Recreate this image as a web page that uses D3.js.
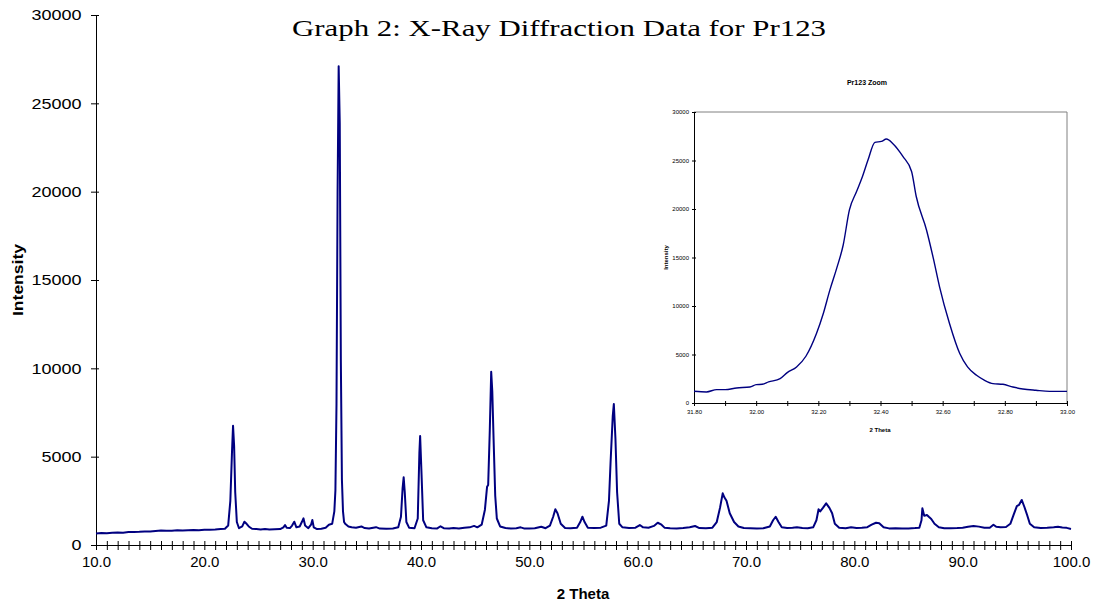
<!DOCTYPE html>
<html>
<head>
<meta charset="utf-8">
<script src="https://cdn.jsdelivr.net/npm/d3@7"></script>
<style>
  body { margin: 0; background: white; }
  text { font-family: Arial, "Liberation Sans", sans-serif; }
</style>
</head>
<body>
<script>
// Main scan: 2 theta (deg) and intensity (counts)
const thetaMain = [
  10.0, 10.5, 11.0, 11.5, 12.0, 12.5, 13.0, 13.5, 14.0, 14.5, 15.0, 15.5, 16.0, 16.5, 17.0, 17.5,
  18.0, 18.5, 19.0, 19.5, 20.0, 20.5, 21.0, 21.5, 21.9, 22.2, 22.4, 22.55, 22.65, 22.75, 22.85, 23.0,
  23.2, 23.5, 23.7, 23.9, 24.1, 24.4, 24.8, 25.2, 25.6, 26.0, 26.5, 27.0, 27.3, 27.45, 27.6, 27.9,
  28.1, 28.3, 28.5, 28.8, 29.0, 29.15, 29.3, 29.6, 29.85, 29.97, 30.1, 30.4, 30.8, 31.2, 31.5, 31.8,
  32.0, 32.1, 32.2, 32.3, 32.4, 32.5, 32.6, 32.7, 32.8, 32.9, 33.0, 33.3, 33.6, 34.0, 34.5, 34.8,
  35.2, 35.85, 36.2, 36.8, 37.4, 37.9, 38.15, 38.3, 38.4, 38.5, 38.65, 38.9, 39.4, 39.7, 39.85, 39.92,
  40.05, 40.2, 40.5, 41.0, 41.5, 41.8, 42.1, 42.6, 43.0, 43.5, 44.0, 44.5, 44.9, 45.2, 45.6, 45.9,
  46.1, 46.2, 46.35, 46.48, 46.58, 46.7, 46.85, 47.0, 47.3, 47.8, 48.3, 48.8, 49.2, 49.5, 50.0, 50.5,
  51.1, 51.5, 51.9, 52.2, 52.4, 52.6, 52.9, 53.3, 53.8, 54.4, 54.7, 54.9, 55.1, 55.4, 56.0, 56.6,
  57.1, 57.35, 57.5, 57.7, 57.8, 57.95, 58.1, 58.3, 58.6, 59.2, 59.8, 60.2, 60.5, 61.0, 61.5, 61.85,
  62.2, 62.5, 63.0, 63.6, 64.2, 64.8, 65.3, 65.7, 66.3, 66.9, 67.3, 67.6, 67.85, 68.0, 68.2, 68.5,
  68.9, 69.3, 69.8, 70.4, 71.0, 71.6, 72.2, 72.5, 72.74, 73.0, 73.3, 73.8, 74.3, 74.7, 75.2, 75.7,
  76.2, 76.5, 76.7, 76.85, 77.1, 77.4, 77.7, 77.95, 78.2, 78.6, 79.2, 79.7, 80.2, 80.7, 81.2, 81.6,
  82.0, 82.3, 82.7, 83.2, 83.8, 84.4, 85.0, 85.6, 86.0, 86.2, 86.28, 86.45, 86.7, 86.9, 87.1, 87.4,
  87.8, 88.3, 88.9, 89.5, 90.0, 90.5, 91.0, 91.5, 92.0, 92.5, 92.84, 93.1, 93.5, 94.0, 94.4, 94.7,
  95.0, 95.2, 95.45, 95.7, 95.95, 96.2, 96.6, 97.2, 97.8, 98.4, 98.8, 99.2, 99.6, 100.0
]
const intensityMain = [
  650, 680, 670, 700, 710, 700, 730, 740, 750, 770, 760, 790, 820, 800, 810, 830,
  820, 840, 850, 840, 860, 870, 880, 900, 920, 1100, 2500, 5200, 6750, 5600, 3000, 1300,
  950, 1050, 1320, 1200, 1050, 920, 900, 880, 900, 880, 890, 900, 1000, 1130, 980, 960,
  1100, 1320, 1000, 1050, 1300, 1510, 1100, 950, 1150, 1420, 1000, 900, 920, 980, 1150, 1200,
  1900, 3100, 8000, 19900, 27100, 23900, 10500, 3700, 1900, 1300, 1200, 1050, 1000, 980, 1050, 960,
  930, 1010, 930, 920, 930, 1000, 1600, 3200, 3830, 3000, 1300, 980, 950, 1500, 5200, 6170,
  4000, 1400, 1000, 950, 940, 1060, 950, 930, 960, 930, 970, 1000, 1080, 1000, 1150, 2000,
  3300, 3400, 6500, 9800, 8700, 6000, 2800, 1500, 1050, 960, 930, 950, 1000, 940, 930, 950,
  1035, 950, 1100, 1600, 2020, 1800, 1200, 960, 950, 980, 1300, 1600, 1300, 980, 960, 980,
  1100, 2500, 4700, 7300, 7980, 6000, 3000, 1200, 1000, 960, 980, 1130, 1000, 980, 1080, 1260,
  1150, 970, 950, 940, 960, 1000, 1075, 960, 950, 980, 1300, 2100, 2925, 2700, 2500, 1800,
  1300, 1050, 960, 950, 940, 950, 1050, 1400, 1600, 1300, 1000, 960, 980, 1010, 960, 950,
  1000, 1400, 2020, 1900, 2100, 2360, 2100, 1800, 1200, 980, 950, 1000, 960, 980, 1010, 1150,
  1260, 1230, 1000, 940, 950, 930, 940, 960, 980, 1400, 2075, 1650, 1700, 1580, 1470, 1200,
  1000, 950, 950, 960, 980, 1030, 1075, 1040, 980, 980, 1150, 1030, 1000, 1020, 1200, 1700,
  2200, 2270, 2550, 2150, 1700, 1200, 1000, 960, 970, 1000, 1030, 990, 970, 910
]

// Zoom on the strongest reflection
const thetaZoom = [
  31.80, 31.84, 31.873, 31.90, 31.937, 31.98, 32.00, 32.02, 32.04, 32.077, 32.10, 32.13, 32.16, 32.194,
  32.216, 32.237, 32.259, 32.28, 32.30, 32.323, 32.342, 32.36, 32.382, 32.403, 32.419, 32.44, 32.472,
  32.50, 32.515, 32.548, 32.57, 32.59, 32.622, 32.655, 32.68, 32.709, 32.735, 32.762, 32.794, 32.826,
  32.858, 32.90, 32.944, 33.00
]
const intensityZoom = [
  1205, 1140, 1380, 1380, 1550, 1650, 1890, 1930, 2170, 2510, 3130, 3720, 4820, 7160,
  9230, 11640, 13880, 16290, 19910, 21800, 23350, 25070, 26870, 26970, 27210, 26730, 25420,
  23870, 21290, 17840, 14910, 11980, 8200, 5100, 3720, 2860, 2340, 2000, 1930, 1650,
  1450, 1310, 1200, 1200
]

const mainXTicks = d3.range(10, 101, 10)
const mainYTicks = d3.range(0, 30001, 5000)
const zoomXTicks = d3.range(31.8, 33.001, 0.2)
const zoomYTicks = d3.range(0, 30001, 5000)

const lineColor = '#000080'

const svg = d3.select('body').append('svg')
    .attr('width', 1096)
    .attr('height', 604)
    .style('background-color', 'white')

// ---------- main chart ----------
const x = d3.scaleLinear().domain([10, 100]).range([96, 1071])
const y = d3.scaleLinear().domain([0, 30000]).range([545, 15])

// title (stretched wide like the original)
svg.append('text')
    .attr('x', 559)
    .attr('y', 36)
    .attr('text-anchor', 'middle')
    .attr('textLength', 534)
    .attr('lengthAdjust', 'spacingAndGlyphs')
    .style('font-family', '"Liberation Serif", "Times New Roman", serif')
    .style('font-size', '24px')
    .text('Graph 2: X-Ray Diffraction Data for Pr123')

// minor ticks every degree, crossing the axis
const xMinor = svg.append('g')
    .attr('transform', `translate(0, ${y(0)})`)
    .call(d3.axisBottom(x).tickValues(d3.range(10, 100.5, 1)).tickSize(5).tickSizeOuter(0).tickFormat(''))
xMinor.selectAll('.tick line').attr('y1', -4)

const xLabels = svg.append('g')
    .attr('transform', `translate(0, ${y(0)})`)
    .call(d3.axisBottom(x).tickValues(mainXTicks).tickSize(0).tickPadding(11).tickFormat(d3.format('.1f')))
xLabels.select('.domain').remove()
xLabels.selectAll('text').style('font-size', '15px').style('font-family', 'Arial, "Liberation Sans", sans-serif')

const yAxis = svg.append('g')
    .attr('transform', `translate(${x(10)}, 0)`)
    .call(d3.axisLeft(y).tickValues(mainYTicks).tickSize(5).tickSizeOuter(0).tickPadding(7).tickFormat(d3.format('d')))
yAxis.selectAll('.tick line').attr('x1', 3)
yAxis.selectAll('text')
    .style('font-size', '15px')
    .style('font-family', 'Arial, "Liberation Sans", sans-serif')
    .attr('transform', 'scale(1.2,1)')

svg.append('text')
    .attr('x', 583)
    .attr('y', 599)
    .attr('text-anchor', 'middle')
    .style('font-size', '15px')
    .style('font-weight', 'bold')
    .text('2 Theta')

svg.append('text')
    .attr('transform', `translate(23, ${y(15000)}) rotate(-90)`)
    .attr('text-anchor', 'middle')
    .attr('textLength', 72)
    .attr('lengthAdjust', 'spacingAndGlyphs')
    .style('font-size', '14px')
    .style('font-weight', 'bold')
    .text('Intensity')

const mainLine = d3.line()
    .x(i => x(thetaMain[i]))
    .y(i => y(intensityMain[i]))

svg.append('path')
    .datum(d3.range(thetaMain.length))
    .attr('d', mainLine)
    .style('fill', 'none')
    .style('stroke', lineColor)
    .style('stroke-width', 2)
    .style('stroke-linejoin', 'round')

// ---------- inset ----------
const zx = d3.scaleLinear().domain([31.8, 33.0]).range([694, 1067])
const zy = d3.scaleLinear().domain([0, 30000]).range([403, 112])

// plot area border (grey top & right)
svg.append('path')
    .attr('d', `M${zx(31.8)},${zy(30000)}H${zx(33)}V${zy(0)}`)
    .style('fill', 'none')
    .style('stroke', '#808080')
    .style('stroke-width', 1)

svg.append('text')
    .attr('x', 867)
    .attr('y', 85)
    .attr('text-anchor', 'middle')
    .style('font-size', '7px')
    .style('font-weight', 'bold')
    .text('Pr123 Zoom')

const zxAxis = svg.append('g')
    .attr('transform', `translate(0, ${zy(0)})`)
    .call(d3.axisBottom(zx).tickValues(d3.range(31.8, 33.05, 0.1)).tickSize(3).tickSizeOuter(0).tickFormat(''))
zxAxis.selectAll('.tick line').attr('y1', -2)

const zxLabels = svg.append('g')
    .attr('transform', `translate(0, ${zy(0)})`)
    .call(d3.axisBottom(zx).tickValues(zoomXTicks).tickSize(0).tickPadding(7).tickFormat(d3.format('.2f')))
zxLabels.select('.domain').remove()
zxLabels.selectAll('text').style('font-size', '6px').style('font-family', 'Arial, "Liberation Sans", sans-serif')

const zyAxis = svg.append('g')
    .attr('transform', `translate(${zx(31.8)}, 0)`)
    .call(d3.axisLeft(zy).tickValues(zoomYTicks).tickSize(2).tickSizeOuter(0).tickPadding(3).tickFormat(d3.format('d')))
zyAxis.selectAll('.tick line').attr('x1', 2)
zyAxis.selectAll('text').style('font-size', '6px').style('font-family', 'Arial, "Liberation Sans", sans-serif')

svg.append('text')
    .attr('x', 880)
    .attr('y', 432)
    .attr('text-anchor', 'middle')
    .style('font-size', '6px')
    .style('font-weight', 'bold')
    .text('2 Theta')

svg.append('text')
    .attr('transform', `translate(668, ${zy(15000)}) rotate(-90)`)
    .attr('text-anchor', 'middle')
    .style('font-size', '6px')
    .style('font-weight', 'bold')
    .text('Intensity')

const zoomLine = d3.line()
    .x(i => zx(thetaZoom[i]))
    .y(i => zy(intensityZoom[i]))
    .curve(d3.curveMonotoneX)

svg.append('path')
    .datum(d3.range(thetaZoom.length))
    .attr('d', zoomLine)
    .style('fill', 'none')
    .style('stroke', lineColor)
    .style('stroke-width', 1.4)
</script>
</body>
</html>
